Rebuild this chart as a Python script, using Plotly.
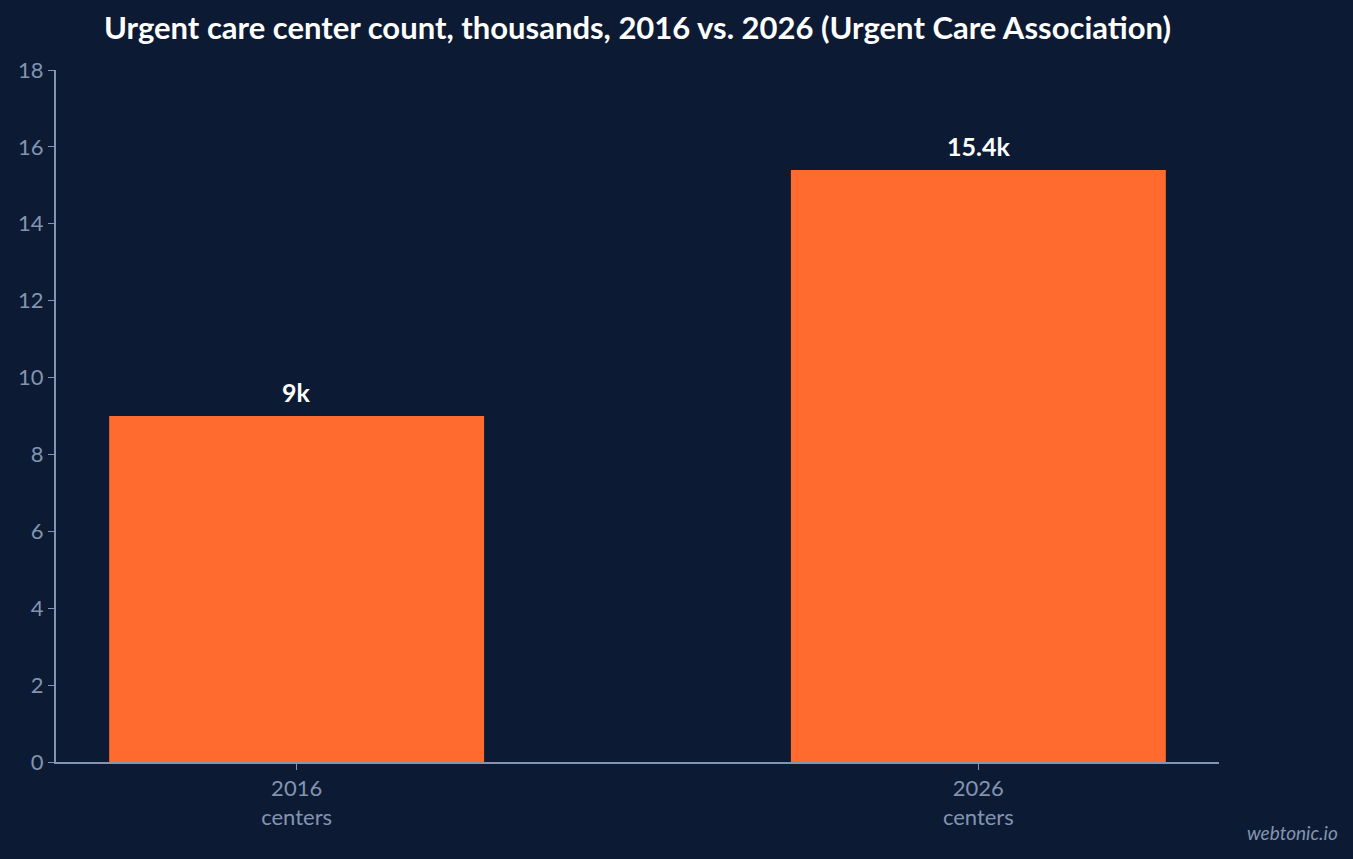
import plotly.graph_objects as go

# data
categories = ["2016<br>centers", "2026<br>centers"]
values = [9.0, 15.4]
labels = ["9k", "15.4k"]

BG = "#0c1b33"
BAR = "#ff6b2f"
AXIS = "#8394b0"

fig = go.Figure(go.Bar(
    x=categories,
    y=values,
    marker=dict(color=BAR, line=dict(width=0)),
    width=0.55,
    hoverinfo="skip",
))

# value labels sit a little above each bar
for cat, val, lab in zip(categories, values, labels):
    fig.add_annotation(
        x=cat, y=val, text="<b>" + lab + "</b>",
        yanchor="bottom", yshift=7, showarrow=False,
        font=dict(family="Lato", size=25, color="white"),
    )

fig.add_annotation(
    text="<i>webtonic.io</i>", xref="paper", yref="paper",
    x=1.104, y=-0.102, xanchor="right", yanchor="middle",
    showarrow=False, font=dict(family="Lato", size=19, color=AXIS),
)

fig.update_layout(
    width=1353,
    height=859,
    paper_bgcolor=BG,
    plot_bgcolor=BG,
    font=dict(family="Lato", color=AXIS, size=22),
    margin=dict(l=56, r=134, t=70, b=97),
    title=dict(
        text="<b>Urgent care center count, thousands, 2016 vs. 2026 (Urgent Care Association)</b>",
        x=0.4712, xanchor="center", y=0.967, yanchor="middle",
        font=dict(family="Lato", size=31, color="white"),
    ),
    showlegend=False,
)

fig.update_xaxes(
    range=[-0.353, 1.353],
    showline=True, linecolor=AXIS, linewidth=2,
    ticks="outside", tickcolor=AXIS, ticklen=6,
    showgrid=False, zeroline=False,
    tickfont=dict(size=22, color=AXIS),
)
fig.update_yaxes(
    range=[0, 18], dtick=2,
    showline=True, linecolor=AXIS, linewidth=2,
    ticks="outside", tickcolor=AXIS, ticklen=6,
    showgrid=False, zeroline=False,
    tickfont=dict(size=22, color=AXIS),
)

fig.write_html(
    "out.html",
    config={"displayModeBar": False},
    post_script="document.body.style.margin='0';document.body.style.background='" + BG + "';",
)
